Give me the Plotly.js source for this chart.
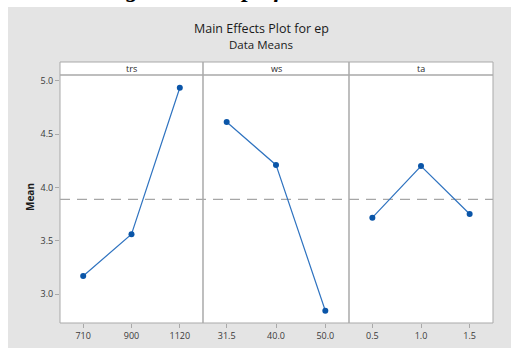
<!DOCTYPE html>
<html>
<head>
<meta charset="utf-8">
<script src="https://cdn.plot.ly/plotly-3.0.1.min.js"></script>
<style>
  html, body { margin: 0; padding: 0; background: #ffffff; }
  #chart { width: 511px; height: 349px; }
</style>
</head>
<body>
<div id="chart"></div>
<script>
// Factor levels and their mean responses
var trsLevels = ['710', '900', '1120'];
var trsMeans  = [3.171, 3.562, 4.934];

var wsLevels  = ['31.5', '40.0', '50.0'];
var wsMeans   = [4.613, 4.211, 2.846];

var taLevels  = ['0.5', '1.0', '1.5'];
var taMeans   = [3.717, 4.201, 3.752];

var factorNames = ['trs', 'ws', 'ta'];
var yTicks = [3.0, 3.5, 4.0, 4.5, 5.0];

// grand mean of the response (average of one factor's level means)
var grandMean = (trsMeans[0] + trsMeans[1] + trsMeans[2]) / 3;

// geometry (pixels) of the figure
var W = 511, H = 349;
var M = {l: 60, r: 18, t: 62, b: 26};
var plotW = W - M.l - M.r, plotH = H - M.t - M.b;
function px(x) { return (x - M.l) / plotW; }
function py(y) { return (H - M.b - y) / plotH; }

var stripTop = 1, stripBottom = py(75);
var dom = [[0, px(203)], [px(203), px(349)], [px(349), 1]];

var lineColor = '#2f73c0';
var markerColor = '#0a55a8';
var frameColor = '#a9a9a9';
var tickFont = {family: 'Open Sans, sans-serif', size: 9, color: '#3a3a3a'};

function series(levels, means, xa) {
  return {
    type: 'scatter', mode: 'lines+markers',
    x: levels, y: means, xaxis: xa, yaxis: 'y',
    line: {color: lineColor, width: 1.2},
    marker: {color: markerColor, size: 6, symbol: 'circle'},
    hoverinfo: 'x+y', showlegend: false
  };
}

var data = [
  series(trsLevels, trsMeans, 'x'),
  series(wsLevels, wsMeans, 'x2'),
  series(taLevels, taMeans, 'x3')
];

function xAxis(i) {
  return {
    domain: dom[i], anchor: 'y', type: 'category',
    range: [-0.48, 2.48],
    showgrid: false, zeroline: false, showline: false,
    ticks: 'outside', ticklen: 4, tickcolor: frameColor, tickwidth: 1,
    tickfont: tickFont, fixedrange: true
  };
}

var shapes = [
  // grey panel behind the chart
  {type: 'rect', xref: 'paper', yref: 'paper', layer: 'below',
   x0: px(8), x1: px(520), y0: py(348), y1: py(7),
   fillcolor: '#e4e4e4', line: {width: 0}},
  // white plotting area including the factor strip
  {type: 'rect', xref: 'paper', yref: 'paper', layer: 'below',
   x0: 0, x1: 1, y0: 0, y1: stripTop,
   fillcolor: '#ffffff', line: {width: 0}},
  // grand-mean reference line
  {type: 'line', xref: 'paper', yref: 'y', layer: 'below',
   x0: 0, x1: 1, y0: grandMean, y1: grandMean,
   line: {color: '#a6a6a6', width: 1.2, dash: '10px,7px'}},
  // strip separator
  {type: 'line', xref: 'paper', yref: 'paper',
   x0: 0, x1: 1, y0: stripBottom, y1: stripBottom,
   line: {color: frameColor, width: 1.5}}
];
dom.forEach(function (d) {
  shapes.push({type: 'rect', xref: 'paper', yref: 'paper',
    x0: d[0], x1: d[1], y0: 0, y1: 1,
    line: {color: frameColor, width: 1}, fillcolor: 'rgba(0,0,0,0)'});
});

var annotations = [
  {xref: 'paper', yref: 'paper', x: px(259), y: py(4.5), yanchor: 'bottom', xanchor: 'center',
   text: '<b><i>Figure 5: Graph for Peak Load</i></b>', showarrow: false,
   font: {family: 'Liberation Serif, serif', size: 24, color: '#000000'}},
  {xref: 'paper', yref: 'paper', x: px(261), y: py(28), yanchor: 'middle', xanchor: 'center',
   text: 'Main Effects Plot for ep', showarrow: false,
   font: {family: 'Open Sans, sans-serif', size: 12.5, color: '#1a1a1a'}},
  {xref: 'paper', yref: 'paper', x: px(261), y: py(45), yanchor: 'middle', xanchor: 'center',
   text: 'Data Means', showarrow: false,
   font: {family: 'Open Sans, sans-serif', size: 11.5, color: '#1a1a1a'}},
  {xref: 'paper', yref: 'paper', x: px(30), y: py(197), yanchor: 'middle', xanchor: 'center',
   text: '<b>Mean</b>', textangle: -90, showarrow: false,
   font: {family: 'Open Sans, sans-serif', size: 10, color: '#1a1a1a'}}
];
factorNames.forEach(function (name, i) {
  annotations.push({xref: 'paper', yref: 'paper',
    x: (dom[i][0] + dom[i][1]) / 2, y: (stripTop + stripBottom) / 2,
    yanchor: 'middle', xanchor: 'center', text: name, showarrow: false,
    font: {family: 'Open Sans, sans-serif', size: 9, color: '#2a2a2a'}});
});

var layout = {
  width: W, height: H,
  margin: M,
  paper_bgcolor: '#ffffff', plot_bgcolor: '#ffffff',
  showlegend: false,
  xaxis: xAxis(0), xaxis2: xAxis(1), xaxis3: xAxis(2),
  yaxis: {
    domain: [0, stripBottom], anchor: 'x',
    range: [2.731, 5.053],
    tickvals: yTicks, tickformat: '.1f',
    showgrid: false, zeroline: false, showline: false,
    ticks: 'outside', ticklen: 4, tickcolor: frameColor, tickwidth: 1,
    tickfont: tickFont, fixedrange: true
  },
  shapes: shapes,
  annotations: annotations
};

Plotly.newPlot('chart', data, layout, {displayModeBar: false, staticPlot: true});
</script>
</body>
</html>
